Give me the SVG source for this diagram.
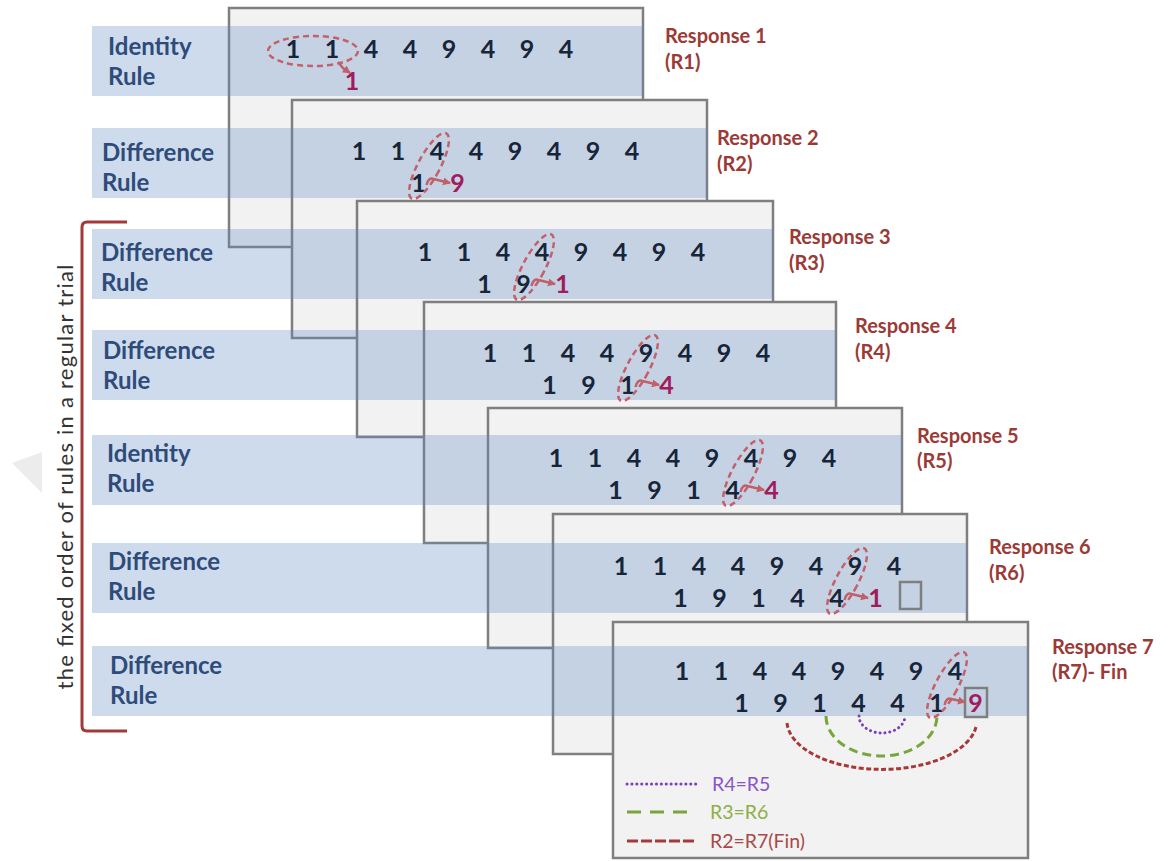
<svg xmlns="http://www.w3.org/2000/svg" width="1169" height="861" viewBox="0 0 1169 861">
  <style>
    .card { fill: #f2f2f2; stroke: #7f7f7f; stroke-width: 2.5; }
    .band { fill: rgb(97,139,197); fill-opacity: 0.31; }
    .rule { font-family: Lato, "Open Sans", sans-serif; font-weight: 700; font-size: 24px; fill: #2f4b7a; }
    .seq { font-family: Lato, "Open Sans", sans-serif; font-weight: 700; font-size: 25px; fill: #17253a; text-anchor: middle; }
    .ans { fill: #a01c5c; }
    .resp { font-family: Lato, "Open Sans", sans-serif; font-weight: 700; font-size: 20px; fill: #9b3a36; }
    .pick { fill: none; stroke: #c4606b; stroke-width: 2.5; stroke-dasharray: 6 4; }
    .link { fill: none; stroke: #c0606a; stroke-width: 2.5; }
    .slot { fill: none; stroke: #7f7f7f; stroke-width: 2.5; }
    .legend { font-family: Lato, "Open Sans", sans-serif; font-size: 19.5px; }
  </style>
  <defs>
    <marker id="tip" markerUnits="userSpaceOnUse" markerWidth="10" markerHeight="10" refX="7" refY="4" orient="auto">
      <path d="M0,0 L8,4 L0,8 z" fill="#c0606a"/>
    </marker>
  </defs>

  <rect width="1169" height="861" fill="#ffffff"/>
  <polygon points="12,463 42,452 42,493" fill="#ececec"/>

  <!-- side bracket and caption -->
  <g id="order-bracket">
    <path d="M127,222 L87,222 Q82,222 82,227 L82,726 Q82,731 87,731 L127,731" fill="none" stroke="#a33a3a" stroke-width="3"/>
    <text transform="translate(73,477) rotate(-90)" text-anchor="middle" textLength="425" font-family="Lato, 'Open Sans', sans-serif" font-size="22" fill="#333333">the fixed order of rules in a regular trial</text>
  </g>

  <g id="step1">
    <rect class="card" x="229" y="8" width="414" height="239"/>
    <rect class="band" x="92" y="26" width="551" height="70"/>
    <text class="rule" x="108" y="55">Identity</text>
    <text class="rule" x="108" y="85">Rule</text>
    <text class="seq" x="293 332 371 410 449 488 527 566" y="58">11449494</text>
    <text class="seq ans" x="352" y="90">1</text>
    <text class="resp" x="665" y="43">Response 1</text>
    <text class="resp" x="665" y="69">(R1)</text>
  </g>

  <g id="step2">
    <rect class="card" x="292" y="100" width="415" height="238"/>
    <rect class="band" x="92" y="128" width="615" height="70"/>
    <text class="rule" x="102" y="161">Difference</text>
    <text class="rule" x="102" y="191">Rule</text>
    <text class="seq" x="359 398 437 476 515 554 593 632" y="160">11449494</text>
    <text class="seq" x="418.5" y="192">1</text>
    <text class="seq ans" x="457.5" y="192">9</text>
    <text class="resp" x="717" y="145">Response 2</text>
    <text class="resp" x="717" y="171">(R2)</text>
  </g>

  <g id="step3">
    <rect class="card" x="357" y="201" width="416" height="236"/>
    <rect class="band" x="92" y="229" width="681" height="70"/>
    <text class="rule" x="101" y="261">Difference</text>
    <text class="rule" x="101" y="291">Rule</text>
    <text class="seq" x="425 464 503 542 581 620 659 698" y="261">11449494</text>
    <text class="seq" x="484.5 523.5" y="293">19</text>
    <text class="seq ans" x="562.5" y="293">1</text>
    <text class="resp" x="789" y="244">Response 3</text>
    <text class="resp" x="789" y="270">(R3)</text>
  </g>

  <g id="step4">
    <rect class="card" x="424" y="302" width="412" height="241"/>
    <rect class="band" x="92" y="330" width="744" height="70"/>
    <text class="rule" x="103" y="359">Difference</text>
    <text class="rule" x="103" y="389">Rule</text>
    <text class="seq" x="490 529 568 607 646 685 724 763" y="362">11449494</text>
    <text class="seq" x="549.5 588.5 627.5" y="394">191</text>
    <text class="seq ans" x="666.5" y="394">4</text>
    <text class="resp" x="855" y="333">Response 4</text>
    <text class="resp" x="855" y="359">(R4)</text>
  </g>

  <g id="step5">
    <rect class="card" x="488" y="408" width="414" height="240"/>
    <rect class="band" x="92" y="435" width="810" height="70"/>
    <text class="rule" x="107" y="462">Identity</text>
    <text class="rule" x="107" y="492">Rule</text>
    <text class="seq" x="556 595 634 673 712 751 790 829" y="467">11449494</text>
    <text class="seq" x="615.5 654.5 693.5 732.5" y="499">1914</text>
    <text class="seq ans" x="771.5" y="499">4</text>
    <text class="resp" x="917" y="443">Response 5</text>
    <text class="resp" x="917" y="468">(R5)</text>
  </g>

  <g id="step6">
    <rect class="card" x="553" y="514" width="414" height="240"/>
    <rect class="band" x="92" y="543" width="875" height="70"/>
    <text class="rule" x="108" y="570">Difference</text>
    <text class="rule" x="108" y="600">Rule</text>
    <text class="seq" x="621 660 699 738 777 816 855 894" y="575">11449494</text>
    <text class="seq" x="680.5 719.5 758.5 797.5 836.5" y="607">19144</text>
    <text class="seq ans" x="875.5" y="607">1</text>
    <rect class="slot" x="900" y="582" width="21" height="27"/>
    <text class="resp" x="989" y="554">Response 6</text>
    <text class="resp" x="989" y="580">(R6)</text>
  </g>

  <g id="step7">
    <rect class="card" x="613" y="622" width="415" height="236"/>
    <rect class="band" x="92" y="646" width="936" height="70"/>
    <text class="rule" x="110" y="674">Difference</text>
    <text class="rule" x="110" y="704">Rule</text>
    <text class="seq" x="682 721 760 799 838 877 916 955" y="680">11449494</text>
    <text class="seq" x="741.5 780.5 819.5 858.5 897.5 936.5" y="712">191441</text>
    <text class="seq ans" x="975.5" y="712">9</text>
    <rect class="slot" x="965" y="688" width="22" height="29"/>
    <text class="resp" x="1052" y="654">Response 7</text>
    <text class="resp" x="1052" y="679">(R7)- Fin</text>
  </g>

  <!-- selection rings and answer arrows -->
  <g id="connectors">
    <ellipse class="pick" cx="313" cy="51" rx="45" ry="15"/>
    <ellipse class="pick" cx="0" cy="0" rx="11" ry="37" transform="translate(429,166) rotate(28)"/>
    <ellipse class="pick" cx="0" cy="0" rx="11" ry="37" transform="translate(534,267) rotate(28)"/>
    <ellipse class="pick" cx="0" cy="0" rx="11" ry="37" transform="translate(638,368) rotate(28)"/>
    <ellipse class="pick" cx="0" cy="0" rx="11" ry="37" transform="translate(743,473) rotate(28)"/>
    <ellipse class="pick" cx="0" cy="0" rx="11" ry="37" transform="translate(847,581) rotate(28)"/>
    <ellipse class="pick" cx="0" cy="0" rx="11" ry="37" transform="translate(947,685) rotate(28)"/>

    <path class="link" d="M338,62 L343,68 L350,73" marker-end="url(#tip)"/>
    <path class="link" d="M426.5,185 Q428.5,177 433.5,179 L450,183" marker-end="url(#tip)"/>
    <path class="link" d="M531.5,286 Q533.5,278 538.5,280 L555,284" marker-end="url(#tip)"/>
    <path class="link" d="M635.5,387 Q637.5,379 642.5,381 L659,385" marker-end="url(#tip)"/>
    <path class="link" d="M740.5,492 Q742.5,484 747.5,486 L764,490" marker-end="url(#tip)"/>
    <path class="link" d="M844.5,600 Q846.5,592 851.5,594 L868,598" marker-end="url(#tip)"/>
    <path class="link" d="M944.5,705 Q946.5,697 951.5,699 L965,702" marker-end="url(#tip)"/>

    <!-- repeated responses -->
    <path d="M859,716 A23,17 0 0 0 905,716" fill="none" stroke="#7a3fc0" stroke-width="3" stroke-linecap="round" stroke-dasharray="0.1 4.8"/>
    <path d="M826,716 A55.5,40 0 0 0 937,716" fill="none" stroke="#78a63c" stroke-width="3" stroke-dasharray="9 5"/>
    <path d="M787,723 A95,49 0 0 0 976,727" fill="none" stroke="#a83838" stroke-width="3" stroke-dasharray="5 2.5"/>
  </g>

  <g id="legend">
    <line x1="627" y1="784" x2="700" y2="784" stroke="#7a3fc0" stroke-width="3" stroke-linecap="round" stroke-dasharray="0.1 4.8"/>
    <text class="legend" x="712" y="791" fill="#8a55c8">R4=R5</text>
    <line x1="627" y1="812" x2="690" y2="812" stroke="#78a63c" stroke-width="3" stroke-dasharray="14 9"/>
    <text class="legend" x="710" y="819" fill="#8fae48">R3=R6</text>
    <line x1="627" y1="841" x2="695" y2="841" stroke="#a83838" stroke-width="3" stroke-dasharray="11 3"/>
    <text class="legend" x="710" y="848" fill="#a84a48">R2=R7(Fin)</text>
  </g>
</svg>
